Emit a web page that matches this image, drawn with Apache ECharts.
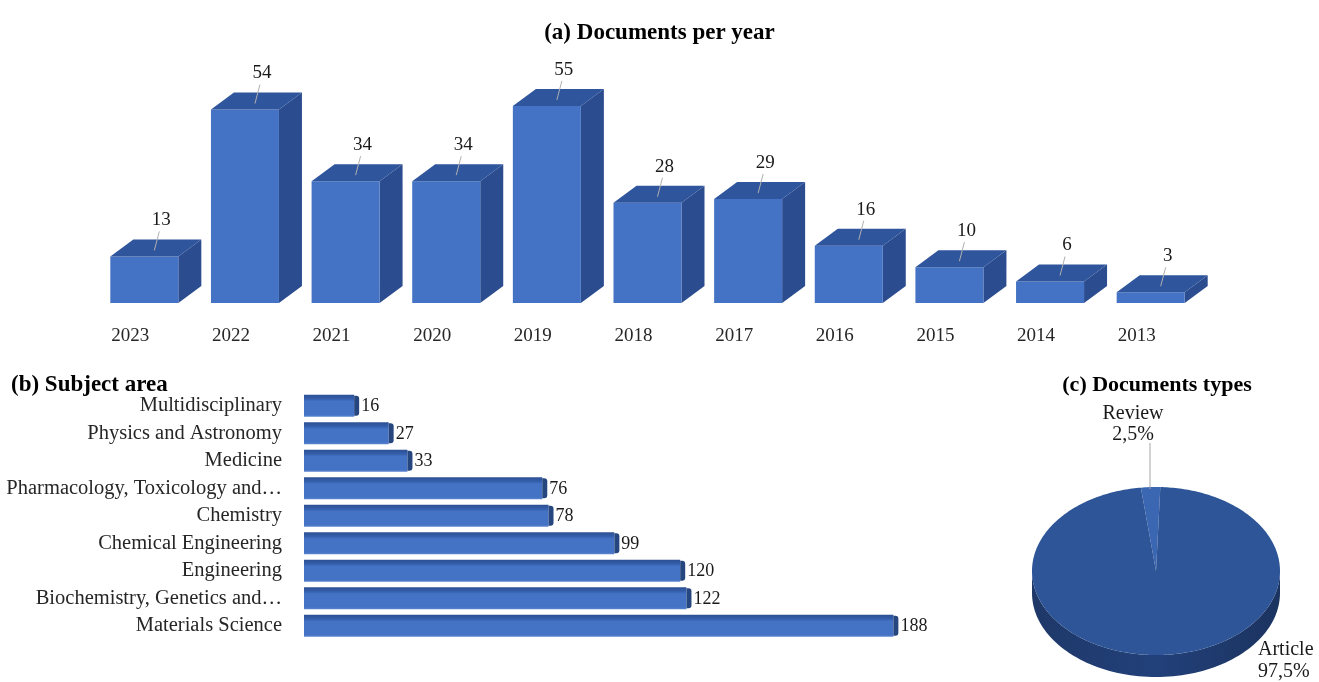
<!DOCTYPE html>
<html>
<head>
<meta charset="utf-8">
<script src="https://cdn.jsdelivr.net/npm/echarts@6/dist/echarts.min.js"></script>
<style>
  html, body { margin: 0; padding: 0; background: #fff; }
  #main { width: 1319px; height: 682px; }
</style>
</head>
<body>
<div id="main"></div>
<script>
// (a) documents per year
var years = ['2023', '2022', '2021', '2020', '2019', '2018', '2017', '2016', '2015', '2014', '2013'];
var docsPerYear = [13, 54, 34, 34, 55, 28, 29, 16, 10, 6, 3];

// (b) subject area
var subjects = ['Multidisciplinary', 'Physics and Astronomy', 'Medicine', 'Pharmacology, Toxicology and…',
  'Chemistry', 'Chemical Engineering', 'Engineering', 'Biochemistry, Genetics and…', 'Materials Science'];
var subjectCounts = [16, 27, 33, 76, 78, 99, 120, 122, 188];

// (c) document types
var docTypes = ['Review', 'Article'];
var docTypeShares = [2.5, 97.5];

var FONT = '"Liberation Serif", "Times New Roman", serif';
var FRONT = '#4472C4', SIDE = '#2B4C8F', TOP = '#2F559C';

var chart = echarts.init(document.getElementById('main'));

function renderColumn(params, api) {
  var base = api.coord([api.value(0), 0]);
  var top = api.coord([api.value(0), api.value(1)]);
  var w = 68, dx = 23, dy = 17;
  var x0 = base[0] - 20, yb = base[1], yt = top[1];
  var lx = x0 + w / 2 + 17, ly = yt - dy - 19;
  return {
    type: 'group',
    children: [
      { type: 'polygon', shape: { points: [[x0 + w, yt], [x0 + w + dx, yt - dy], [x0 + w + dx, yb - dy], [x0 + w, yb]] },
        style: { fill: SIDE } },
      { type: 'rect', shape: { x: x0, y: yt, width: w, height: yb - yt }, style: { fill: FRONT } },
      { type: 'polygon', shape: { points: [[x0, yt], [x0 + dx, yt - dy], [x0 + w + dx, yt - dy], [x0 + w, yt]] },
        style: { fill: TOP } },
      { type: 'line', shape: { x1: x0 + w / 2 + 10, y1: yt - 6, x2: lx - 2, y2: ly + 11 },
        style: { stroke: '#B0B0B0', lineWidth: 1 } },
      { type: 'text', x: lx, y: ly,
        style: { text: String(api.value(1)), fill: '#1a1a1a', font: '19px ' + FONT, align: 'center', verticalAlign: 'middle' } }
    ]
  };
}

function renderHBar(params, api) {
  var start = api.coord([0, api.value(1)]);
  var end = api.coord([api.value(0), api.value(1)]);
  var h = 22, cap = 5;
  var y0 = start[1] - h / 2;
  var len = end[0] - start[0];
  return {
    type: 'group',
    children: [
      { type: 'rect', shape: { x: start[0], y: y0, width: len, height: h },
        style: { fill: new echarts.graphic.LinearGradient(0, 0, 0, 1, [
          { offset: 0, color: '#2C4F92' }, { offset: 0.2, color: '#3560AE' },
          { offset: 0.3, color: '#4472C4' }, { offset: 0.9, color: '#4472C4' }, { offset: 1, color: '#5A84CF' }]) } },
      { type: 'rect', shape: { x: end[0], y: y0 + 1, width: cap, height: h - 2, r: [0, 3, 3, 0] },
        style: { fill: '#26467F' } },
      { type: 'text', x: end[0] + cap + 2, y: start[1] + 1,
        style: { text: String(api.value(0)), fill: '#1a1a1a', font: '18px ' + FONT, align: 'left', verticalAlign: 'middle' } }
    ]
  };
}

var PIE = { cx: 1156, cy: 571, rx: 124, ry: 84, depth: 22, offset: -7 };
function piePt(a, dy) {
  var r = a * Math.PI / 180;
  return [PIE.cx + PIE.rx * Math.sin(r), PIE.cy - PIE.ry * Math.cos(r) + (dy || 0)];
}
function renderPie(params, api) {
  var i = params.dataIndex;
  var total = docTypeShares.reduce(function (s, v) { return s + v; }, 0);
  var before = 0;
  for (var k = 0; k < i; k++) before += docTypeShares[k];
  var a0 = PIE.offset + before / total * 360;
  var a1 = a0 + api.value(0) / total * 360;
  var children = [];
  // side wall where the slice faces the viewer
  var s = Math.max(a0, 90), e = Math.min(a1, 270);
  if (e > s) {
    var pts = [], a;
    for (a = s; a <= e; a += 2) pts.push(piePt(a));
    pts.push(piePt(e));
    for (a = e; a >= s; a -= 2) pts.push(piePt(a, PIE.depth));
    pts.push(piePt(s, PIE.depth));
    children.push({ type: 'polygon', shape: { points: pts },
      style: { fill: new echarts.graphic.LinearGradient(0, 0, 1, 0, [
        { offset: 0, color: '#1E3868' }, { offset: 0.5, color: '#22407A' }, { offset: 1, color: '#1B335F' }]) } });
  }
  var top = [[PIE.cx, PIE.cy]];
  for (var b = a0; b <= a1; b += 1) top.push(piePt(b));
  top.push(piePt(a1));
  children.push({ type: 'polygon', shape: { points: top },
    style: { fill: i === 0 ? '#3A66B2' : '#2E5597' } });
  var pct = api.value(0).toFixed(1).replace('.', ',') + '%';
  if (i === 0) {
    children.push({ type: 'line', shape: { x1: PIE.cx - 6, y1: PIE.cy - PIE.ry - 44, x2: PIE.cx - 6, y2: PIE.cy - PIE.ry + 2 },
      style: { stroke: '#A6A6A6', lineWidth: 1 } });
    children.push({ type: 'text', x: PIE.cx - 23, y: PIE.cy - PIE.ry - 63,
      style: { text: docTypes[i] + '\n' + pct, fill: '#1a1a1a', font: '20px ' + FONT, lineHeight: 21,
        align: 'center', verticalAlign: 'middle' } });
  } else {
    children.push({ type: 'text', x: PIE.cx + 102, y: PIE.cy + 90,
      style: { text: docTypes[i] + '\n' + pct, fill: '#1a1a1a', font: '20px ' + FONT, lineHeight: 22,
        align: 'left', verticalAlign: 'middle' } });
  }
  return { type: 'group', children: children };
}

var option = {
  backgroundColor: '#fff',
  animation: false,
  title: [
    { text: '(a) Documents per year', left: 'center', top: 17,
      textStyle: { fontFamily: FONT, fontWeight: 'bold', fontSize: 23, color: '#000' } },
    { text: '(b) Subject area', left: 6, top: 369,
      textStyle: { fontFamily: FONT, fontWeight: 'bold', fontSize: 23, color: '#000' } },
    { text: '(c) Documents types', left: 1152, textAlign: 'center', top: 369,
      textStyle: { fontFamily: FONT, fontWeight: 'bold', fontSize: 22, color: '#000' } }
  ],
  grid: [
    { left: 80, width: 1107, top: 88, height: 215, containLabel: false, outerBoundsMode: 'none' },
    { left: 304, width: 627, top: 392, height: 247.5, containLabel: false, outerBoundsMode: 'none' }
  ],
  xAxis: [
    { gridIndex: 0, type: 'category', data: years,
      axisLine: { show: false }, axisTick: { show: false },
      axisLabel: { fontFamily: FONT, fontSize: 19, color: '#262626', margin: 24 } },
    { gridIndex: 1, type: 'value', min: 0, max: 200, show: false }
  ],
  yAxis: [
    { gridIndex: 0, type: 'value', min: 0, max: 60, show: false },
    { gridIndex: 1, type: 'category', data: subjects, inverse: true,
      axisLine: { show: false }, axisTick: { show: false },
      axisLabel: { fontFamily: FONT, fontSize: 20.5, color: '#262626', margin: 22 } }
  ],
  series: [
    { type: 'custom', xAxisIndex: 0, yAxisIndex: 0, clip: false, renderItem: renderColumn,
      data: docsPerYear.map(function (v, i) { return [i, v]; }) },
    { type: 'custom', xAxisIndex: 1, yAxisIndex: 1, clip: false, renderItem: renderHBar,
      data: subjectCounts.map(function (v, i) { return [v, i]; }) },
    { type: 'custom', coordinateSystem: 'none', renderItem: renderPie,
      data: docTypeShares.map(function (v) { return [v]; }) }
  ]
};
chart.setOption(option);
window.addEventListener('resize', function () { chart.resize(); });
</script>
</body>
</html>
